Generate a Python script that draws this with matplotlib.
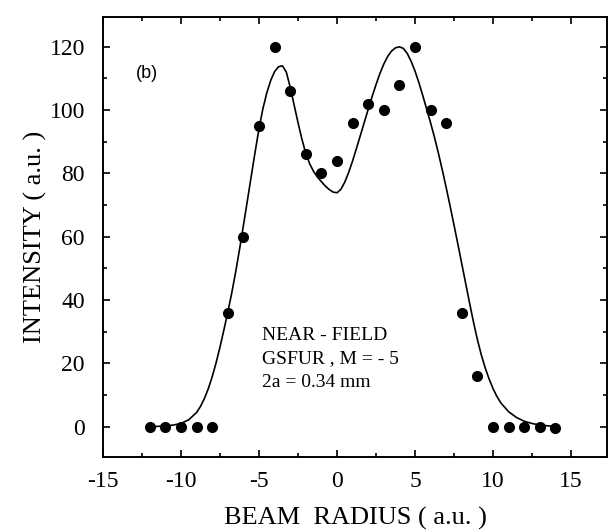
import matplotlib
matplotlib.use("Agg")
import matplotlib.pyplot as plt
from matplotlib.ticker import MultipleLocator

plt.rcParams['axes.unicode_minus'] = False

# measured intensity points
radius = [-12, -11, -10, -9, -8, -7, -6, -5, -4, -3, -2, -1, 0, 1, 2, 3, 4, 5, 6, 7,
          8, 9, 10, 11, 12, 13, 14]
intensity = [0, 0, 0, 0, 0, 36, 60, 95, 120, 106, 86, 80, 84, 96, 102, 100, 108, 120,
             100, 96, 36, 16, 0, 0, 0, 0, -0.5]

# fitted curve
fit_x = [-12, -11.5, -11, -10.5, -10, -9.5, -9, -8.75, -8.5, -8.25, -8, -7.75, -7.5,
         -7.25, -7, -6.75, -6.5, -6.25, -6, -5.75, -5.5, -5.25, -5, -4.75, -4.5, -4.25,
         -4, -3.75, -3.5, -3.25, -3, -2.75, -2.5, -2.25, -2, -1.75, -1.5, -1.25, -1,
         -0.75, -0.5, -0.25, 0, 0.25, 0.5, 0.75, 1, 1.25, 1.5, 1.75, 2, 2.25, 2.5, 2.75,
         3, 3.25, 3.5, 3.75, 4, 4.25, 4.5, 4.75, 5, 5.25, 5.5, 5.75, 6, 6.25, 6.5, 6.75,
         7, 7.25, 7.5, 7.75, 8, 8.25, 8.5, 8.75, 9, 9.25, 9.5, 9.75, 10, 10.25, 10.5,
         11, 11.5, 12, 12.5, 13, 13.5, 14]
fit_y = [0, 0.1, 0.2, 0.5, 1.0, 2.2, 4.5, 6.4, 8.9, 12.0, 15.8, 20.2, 25.2,
         30.6, 36.2, 42.2, 48.8, 56.0, 63.6, 71.3, 79.1, 86.8, 94.2, 100.5, 105.5, 109.4,
         112.2, 113.7, 114.0, 112.0, 107.2, 101.6, 96.0, 90.8, 86.3, 83.0, 80.6, 78.8, 77.4,
         76.0, 74.9, 74.1, 73.9, 75.0, 77.3, 80.4, 84.0, 88.0, 92.1, 96.2, 100.3, 104.3, 108.1, 111.6,
         114.6, 117.0, 118.7, 119.7, 120.0, 119.5, 117.9, 115.4, 112.3, 108.6, 104.5, 100.2,
         95.9, 91.3, 86.3, 81.0, 75.4, 69.6, 63.6, 57.5, 51.3, 45.1, 38.9, 32.9, 27.4, 22.6,
         18.5, 15.0, 12.0, 9.5, 7.5, 4.7, 2.9, 1.7, 1.0, 0.5, 0.25, 0.1]

serif = ["Liberation Serif", "DejaVu Serif"]

fig = plt.figure(figsize=(6.12, 5.32), dpi=100)
ax = fig.add_axes([0.1683, 0.1415, 0.8235, 0.827])

ax.plot(fit_x, fit_y, color="black", linewidth=1.2)
ax.plot(radius, intensity, "o", color="black", markersize=7)

ax.set_xlim(-15, 17.3)
ax.set_ylim(-9.5, 129.5)
ax.xaxis.set_major_locator(MultipleLocator(5))
ax.xaxis.set_minor_locator(MultipleLocator(2.5))
ax.yaxis.set_major_locator(MultipleLocator(20))
ax.yaxis.set_minor_locator(MultipleLocator(10))
ax.tick_params(which="both", direction="in", top=True, right=True, width=1.2)
ax.tick_params(which="major", length=5, labelsize=17)
ax.tick_params(axis="x", which="major", pad=10)
ax.tick_params(axis="y", which="major", pad=13)
ax.tick_params(which="minor", length=3)
for lab in ax.get_xticklabels() + ax.get_yticklabels():
    lab.set_family(serif)
for sp in ax.spines.values():
    sp.set_linewidth(1.4)

ax.set_xlabel("BEAM  RADIUS ( a.u. )", fontsize=19, family=serif, labelpad=11)
ax.set_ylabel("INTENSITY ( a.u. )", fontsize=19, family=serif, labelpad=2)

ax.text(-12.2, 111.6, "(b)", fontsize=13, family=["Liberation Sans", "DejaVu Sans"],
        ha="center", va="center")
ax.text(-4.8, 28.9, "NEAR - FIELD", fontsize=14, family=serif, va="center")
ax.text(-4.8, 21.5, "GSFUR , M = - 5", fontsize=14, family=serif, va="center")
ax.text(-4.8, 14.1, "2a = 0.34 mm", fontsize=14, family=serif, va="center")

fig.savefig("out.png", dpi=100)
